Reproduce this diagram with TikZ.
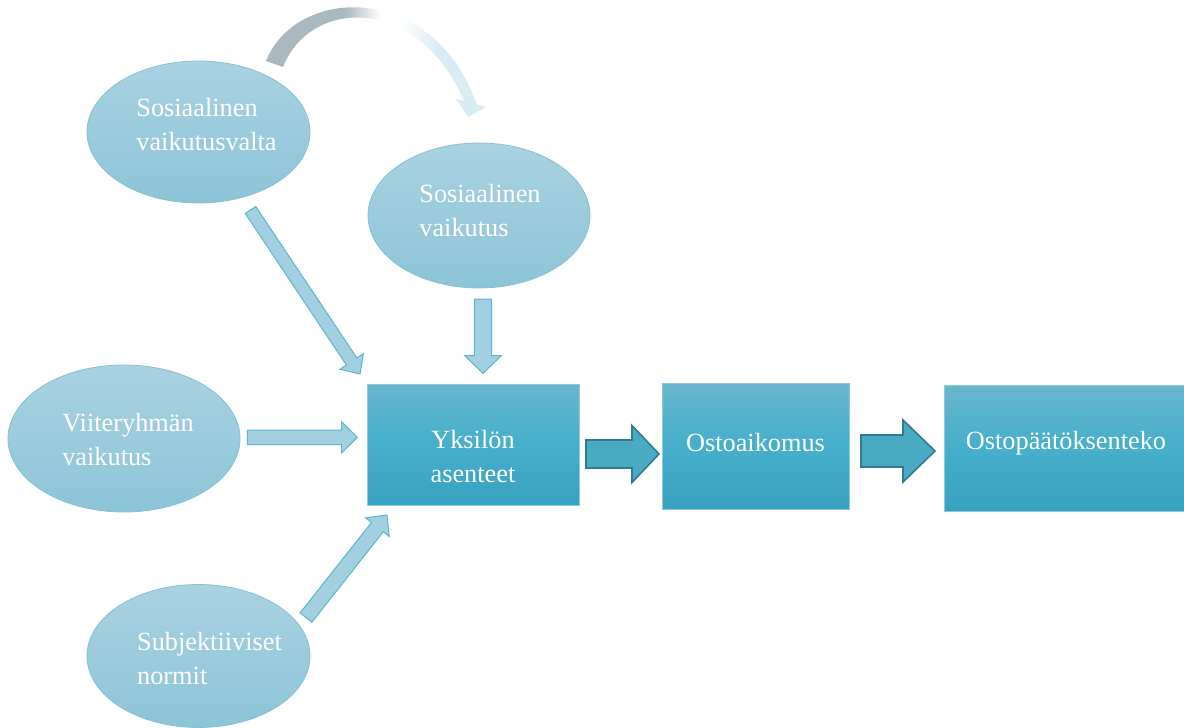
\documentclass[tikz,border=0pt]{standalone}
\usepackage{fontspec}
\setmainfont{Liberation Serif}
\usetikzlibrary{calc,shapes.geometric}
\definecolor{elltop}{HTML}{AAD2E1}
\definecolor{ellbot}{HTML}{8CC4D7}
\definecolor{elldraw}{HTML}{84C2D5}
\definecolor{boxtop}{HTML}{69B6CD}
\definecolor{boxmid}{HTML}{45AFCC}
\definecolor{boxbot}{HTML}{37A1BF}
\definecolor{boxdraw}{HTML}{8ACBDC}
\definecolor{larrfill}{HTML}{A3D0E0}
\definecolor{larrdraw}{HTML}{5BB5CD}
\definecolor{darrfill}{HTML}{4AAAC4}
\definecolor{darrdraw}{HTML}{2F7C90}
\definecolor{cgray}{HTML}{A9B9BF}
\definecolor{clight}{HTML}{D8ECF3}
\pgfdeclarehorizontalshading{curvsh}{100bp}{color(0bp)=(cgray); color(43bp)=(cgray); color(51bp)=(white); color(56bp)=(white); color(64bp)=(clight); color(100bp)=(clight)}
% block arrow: #1 style, #2 start, #3 end, #4 shaft half width, #5 head half width, #6 head length
\newcommand\blockarr[6]{%
  \coordinate (hb) at ($(#3)!#6!(#2)$);
  \draw[#1] ($(#2)!#4!90:(#3)$) -- ($(hb)!#4!-90:(#2)$) -- ($(hb)!#5!-90:(#2)$) -- (#3)
    -- ($(hb)!#5!90:(#2)$) -- ($(hb)!#4!90:(#2)$) -- ($(#2)!#4!-90:(#3)$) -- cycle;}
\begin{document}
\begin{tikzpicture}[x=1pt,y=-1pt,
  txt/.style={text=white,font=\fontsize{26.3}{34}\selectfont},
  ell/.style={shape=ellipse,inner sep=0pt,top color=elltop,bottom color=ellbot,draw=elldraw,line width=0.8pt},
  etxt/.style={txt,align=left},
  box/.style={shape=rectangle,inner sep=0pt,top color=boxtop,bottom color=boxbot,middle color=boxmid,draw=boxdraw,line width=0.8pt},
  btxt/.style={txt,align=center},
  larr/.style={fill=larrfill,draw=larrdraw,line width=1pt,line join=miter},
  darr/.style={fill=darrfill,draw=darrdraw,line width=1.6pt,line join=miter}]
\useasboundingbox (0,0) rectangle (1184,728);

% curved arrow
\shade[shading=curvsh] (266,61) .. controls (296,-14) and (432,-20) .. (477,104.5)
  -- (486,107) -- (468,117) -- (456,99) -- (464,101)
  .. controls (418,-6) and (310,-2) .. (283,67) -- cycle;

% ellipses
\node[ell,minimum width=223pt,minimum height=142pt,
  label={[etxt,xshift=8pt,yshift=7pt]center:Sosiaalinen\\vaikutusvalta}] (sv) at (198.5,132) {};
\node[ell,minimum width=222pt,minimum height=145pt,
  label={[etxt,xshift=1pt,yshift=5pt]center:Sosiaalinen\\vaikutus}] (s) at (479,215.5) {};
\node[ell,minimum width=232pt,minimum height=147pt,
  label={[etxt,xshift=4pt,yshift=-1pt]center:Viiteryhmän\\vaikutus}] (vr) at (124,438.5) {};
\node[ell,minimum width=223pt,minimum height=143pt,
  label={[etxt,xshift=11pt,yshift=-2pt]center:Subjektiiviset\\normit}] (sn) at (198.5,656) {};

% boxes
\node[box,minimum width=212pt,minimum height=121pt,
  label={[btxt,yshift=-12pt]center:Yksilön\\asenteet}] (ya) at (473,444.5) {};
\node[box,minimum width=187pt,minimum height=126pt,
  label={[btxt,yshift=4pt]center:Ostoaikomus}] (oa) at (755.5,446.5) {};
\node[box,minimum width=240pt,minimum height=126pt,
  label={[btxt,xshift=2pt,yshift=5pt]center:Ostopäätöksenteko}] (op) at (1064,448) {};

% connector end points
\coordinate (a1s) at (250.5,210);   \coordinate (a1e) at (360,374);
\coordinate (a2s) at (483,299);     \coordinate (a2e) at (483,373.3);
\coordinate (a3s) at (247.3,437.3); \coordinate (a3e) at (357.3,437.3);
\coordinate (a4s) at (306,617.5);   \coordinate (a4e) at (387,515);
\coordinate (d1s) at (586,454);     \coordinate (d1e) at (659,454);
\coordinate (d2s) at (861,451);     \coordinate (d2e) at (935,451);

\blockarr{larr}{a1s}{a1e}{6.3pt}{14pt}{15pt}
\blockarr{larr}{a2s}{a2e}{8.7pt}{18.3pt}{17.6pt}
\blockarr{larr}{a3s}{a3e}{7.2pt}{15.5pt}{15.6pt}
\blockarr{larr}{a4s}{a4e}{7.5pt}{15pt}{15.4pt}
\blockarr{darr}{d1s}{d1e}{14pt}{28.5pt}{27pt}
\blockarr{darr}{d2s}{d2e}{16pt}{31pt}{32pt}
\end{tikzpicture}
\end{document}
